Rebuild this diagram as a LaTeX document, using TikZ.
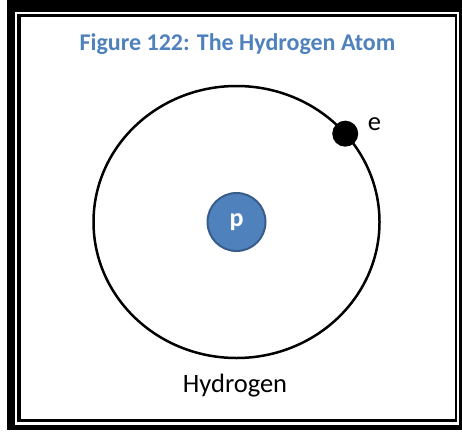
\documentclass[tikz,border=0pt]{standalone}
\usepackage{fontspec}
\setmainfont{Carlito}
\usetikzlibrary{positioning,calc}
\definecolor{atomBlue}{RGB}{79,129,189}
\definecolor{atomDark}{RGB}{56,93,138}

\begin{document}
\begin{tikzpicture}[x=1pt,y=-1pt,
  proton/.style={circle, fill=atomBlue, draw=atomDark, line width=2pt,
    minimum size=58pt, inner sep=0pt, text=white,
    font=\fontsize{26}{28}\selectfont\bfseries},
  electron/.style={circle, fill=black, minimum size=26pt, inner sep=0pt},
  atomlabel/.style={font=\fontsize{26.5}{30}\selectfont, inner sep=0pt}]
  \useasboundingbox (0,0) rectangle (462,431);
  % double frame
  \fill[black] (7,0) rectangle (462,430);
  \fill[white] (15,12) rectangle (459,425);
  \fill[black] (17,14) rectangle (457,422);
  \fill[white] (20.5,17) rectangle (455,419);
  \node[font=\fontsize{24}{27}\selectfont\bfseries, text=atomBlue,
        inner sep=0pt, anchor=base] (title) at (237.5,50)
    {Figure 122: The Hydrogen Atom};
  \coordinate (nucleus) at (236.5,222);
  \draw[line width=2.5pt] (nucleus) ellipse [x radius=143, y radius=136];
  \node[proton] (p) at (nucleus) {p};
  \node[electron] (e) at ($(nucleus)+(-40.5:143 and 136)$) {};
  \node[atomlabel, right=13pt of e.north east] (elabel) {e};
  \node[atomlabel, anchor=base] (name) at (235,392) {Hydrogen};
\end{tikzpicture}
\end{document}
